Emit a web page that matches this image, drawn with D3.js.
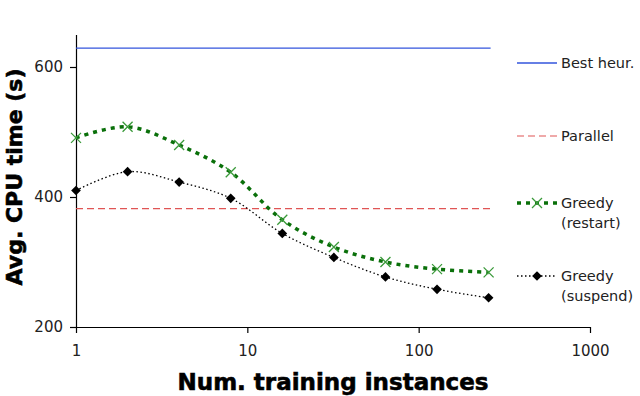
<!DOCTYPE html>
<html>
<head>
<meta charset="utf-8">
<script src="https://cdn.jsdelivr.net/npm/d3@7"></script>
<style>
  html, body { margin: 0; padding: 0; background: #fff; }
  svg { display: block; }
</style>
</head>
<body>
<svg id="chart" width="640" height="396"></svg>
<script>
// ---- data ----
const trainSizes = [1, 2, 4, 8, 16, 32, 64, 128, 256];
const greedyRestart = [491, 508, 480, 438, 365, 323, 300, 289, 284];
const greedySuspend = [410, 439, 423, 398, 344, 307, 277, 258, 245];
const bestHeur = 629;
const parallel = 382;
const xTicks = [1, 10, 100, 1000];
const yTicks = [200, 400, 600];
const legendLabels = [["Best heur."], ["Parallel"], ["Greedy", "(restart)"], ["Greedy", "(suspend)"]];

const svg = d3.select("#chart");
const x = d3.scaleLog().domain([1, 1000]).range([76, 590]);
const y = d3.scaleLinear().domain([200, 650]).range([327, 34.5]);

// title (mostly cut off at top, as in the reference)
svg.append("text")
  .attr("x", 300).attr("y", -6)
  .attr("text-anchor", "middle")
  .attr("font-family", "DejaVu Sans").attr("font-weight", "bold").attr("font-size", 20)
  .text("Speedup of suspend strategy");

// axes
const xAxis = svg.append("g").attr("transform", `translate(0,${y(200)})`)
  .call(d3.axisBottom(x).tickValues(xTicks).tickFormat(d3.format("d")).tickSizeInner(6).tickSizeOuter(0).tickPadding(12));
const yAxis = svg.append("g").attr("transform", `translate(${x(1)},0)`)
  .call(d3.axisLeft(y).tickValues(yTicks).tickSizeInner(6).tickSizeOuter(0).tickPadding(7));
[xAxis, yAxis].forEach(g => {
  g.select(".domain").attr("stroke", "#000").attr("stroke-width", 1.2);
  g.selectAll(".tick line").attr("stroke", "#000").attr("stroke-width", 1.2);
  g.selectAll(".tick text").attr("font-family", "DejaVu Sans").attr("font-size", 15).attr("fill", "#222");
});

// axis titles
svg.append("text")
  .attr("transform", `translate(22,177) rotate(-90)`)
  .attr("text-anchor", "middle")
  .attr("font-family", "DejaVu Sans").attr("font-weight", "bold").attr("font-size", 22)
  .attr("stroke", "#000").attr("stroke-width", 0.6)
  .text("Avg. CPU time (s)");
svg.append("text")
  .attr("x", 333).attr("y", 390)
  .attr("text-anchor", "middle")
  .attr("font-family", "DejaVu Sans").attr("font-weight", "bold").attr("font-size", 23)
  .attr("stroke", "#000").attr("stroke-width", 0.6)
  .text("Num. training instances");

// horizontal reference lines
const xEnds = [trainSizes[0], trainSizes[trainSizes.length - 1]];
svg.append("line")
  .attr("x1", x(xEnds[0])).attr("x2", x(xEnds[1]) + 2)
  .attr("y1", y(bestHeur)).attr("y2", y(bestHeur))
  .attr("stroke", "#3355dd").attr("stroke-width", 1.3);
svg.append("line")
  .attr("x1", x(xEnds[0])).attr("x2", x(xEnds[1]) + 2)
  .attr("y1", y(parallel)).attr("y2", y(parallel))
  .attr("stroke", "#e05555").attr("stroke-width", 1.2).attr("stroke-dasharray", "7,4");

const line = d3.line().x(d => x(d[0])).y(d => y(d[1])).curve(d3.curveCatmullRom.alpha(0.5));

// suspend series
const sus = trainSizes.map((t, i) => [t, greedySuspend[i]]);
svg.append("path").attr("d", line(sus))
  .attr("fill", "none").attr("stroke", "#000").attr("stroke-width", 1.3).attr("stroke-dasharray", "1.5,2.5");
const diamond = d3.symbol().type(d3.symbolDiamond2).size(60);
svg.selectAll(".dm").data(sus).enter().append("path")
  .attr("transform", d => `translate(${x(d[0])},${y(d[1])})`)
  .attr("d", diamond).attr("fill", "#000");

// restart series
const res = trainSizes.map((t, i) => [t, greedyRestart[i]]);
svg.append("path").attr("d", line(res))
  .attr("fill", "none").attr("stroke", "#0a700a").attr("stroke-width", 3.5).attr("stroke-dasharray", "4,5");
function drawX(g, cx, cy) {
  const s = 5;
  g.append("path")
    .attr("d", `M${cx - s},${cy - s}L${cx + s},${cy + s}M${cx - s},${cy + s}L${cx + s},${cy - s}`)
    .attr("stroke", "#3a9a3a").attr("stroke-width", 1.3).attr("fill", "none");
}
res.forEach(d => drawX(svg, x(d[0]), y(d[1])));

// legend
const lg = svg.append("g");
const lx1 = 517, lx2 = 557, lmid = 537, tx = 561;
const rows = [63, 136, 203, 276];
lg.append("line").attr("x1", lx1).attr("x2", lx2).attr("y1", rows[0]).attr("y2", rows[0])
  .attr("stroke", "#3355dd").attr("stroke-width", 1.3);
lg.append("line").attr("x1", lx1).attr("x2", lx2).attr("y1", rows[1]).attr("y2", rows[1])
  .attr("stroke", "#e05555").attr("stroke-width", 1.2).attr("stroke-dasharray", "7,4");
lg.append("line").attr("x1", lx1).attr("x2", lx2).attr("y1", rows[2]).attr("y2", rows[2])
  .attr("stroke", "#0a700a").attr("stroke-width", 3.5).attr("stroke-dasharray", "4,5");
drawX(lg, lmid, rows[2]);
lg.append("line").attr("x1", lx1).attr("x2", lx2).attr("y1", rows[3]).attr("y2", rows[3])
  .attr("stroke", "#000").attr("stroke-width", 1.3).attr("stroke-dasharray", "1.5,2.5");
lg.append("path").attr("transform", `translate(${lmid},${rows[3]})`).attr("d", diamond).attr("fill", "#000");

legendLabels.forEach((lines, i) => {
  const t = lg.append("text")
    .attr("x", tx).attr("y", rows[i] + 5)
    .attr("font-family", "DejaVu Sans").attr("font-size", 14.5).attr("fill", "#222");
  lines.forEach((s, j) => t.append("tspan").attr("x", tx).attr("dy", j === 0 ? 0 : 20).text(s));
});
</script>
</body>
</html>
